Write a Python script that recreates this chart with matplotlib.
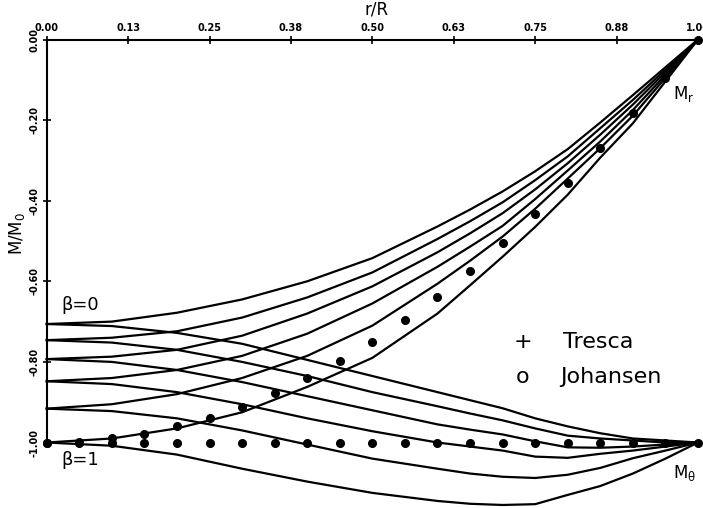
import matplotlib.pyplot as plt

# radial positions where the curves were read
r = [0.0, 0.1, 0.2, 0.3, 0.4, 0.5, 0.6, 0.65, 0.7, 0.75, 0.8, 0.85, 0.9, 0.95, 1.0]

# M_r curves, beta = 0 ... 1
mr_b00 = [-0.706, -0.700, -0.678, -0.645, -0.600, -0.5425, -0.464, -0.422, -0.377, -0.327, -0.272, -0.206, -0.138, -0.069, 0.0]
mr_b02 = [-0.746, -0.740, -0.724, -0.690, -0.640, -0.578, -0.495, -0.451, -0.404, -0.349, -0.290, -0.220, -0.150, -0.075, 0.0]
mr_b04 = [-0.793, -0.787, -0.770, -0.735, -0.680, -0.6125, -0.528, -0.481, -0.431, -0.372, -0.307, -0.236, -0.1615, -0.081, 0.0]
mr_b06 = [-0.848, -0.840, -0.820, -0.785, -0.730, -0.655, -0.564, -0.514, -0.4625, -0.396, -0.325, -0.253, -0.175, -0.088, 0.0]
mr_b08 = [-0.916, -0.905, -0.880, -0.840, -0.785, -0.710, -0.606, -0.549, -0.489, -0.420, -0.345, -0.2695, -0.189, -0.095, 0.0]
mr_b10 = [-1.000, -0.990, -0.965, -0.925, -0.862, -0.790, -0.680, -0.610, -0.539, -0.465, -0.385, -0.293, -0.208, -0.104, 0.0]

# M_theta curves, beta = 0 ... 1
mt_b00 = [-0.706, -0.711, -0.728, -0.755, -0.795, -0.835, -0.875, -0.895, -0.915, -0.940, -0.960, -0.977, -0.990, -0.995, -1.0]
mt_b02 = [-0.746, -0.752, -0.770, -0.800, -0.835, -0.875, -0.910, -0.928, -0.945, -0.965, -0.983, -0.990, -0.995, -1.000, -1.0]
mt_b04 = [-0.793, -0.800, -0.820, -0.850, -0.885, -0.920, -0.955, -0.968, -0.980, -0.997, -1.012, -1.013, -1.010, -1.005, -1.0]
mt_b06 = [-0.848, -0.855, -0.875, -0.905, -0.940, -0.972, -1.000, -1.010, -1.020, -1.035, -1.038, -1.028, -1.020, -1.010, -1.0]
mt_b08 = [-0.916, -0.922, -0.940, -0.970, -1.005, -1.040, -1.065, -1.077, -1.085, -1.088, -1.080, -1.063, -1.039, -1.020, -1.0]
mt_b10 = [-1.000, -1.008, -1.030, -1.065, -1.097, -1.125, -1.145, -1.152, -1.155, -1.153, -1.130, -1.108, -1.077, -1.040, -1.0]

# Johansen solution (dots)
r_joh = [0.0, 0.05, 0.1, 0.15, 0.2, 0.25, 0.3, 0.35, 0.4, 0.45, 0.5,
         0.55, 0.6, 0.65, 0.7, 0.75, 0.8, 0.85, 0.9, 0.95, 1.0]
mr_joh = [-1.0, -0.998, -0.99, -0.978, -0.96, -0.938, -0.912, -0.878, -0.84, -0.798, -0.75,
          -0.695, -0.64, -0.575, -0.505, -0.433, -0.355, -0.27, -0.183, -0.095, 0.0]
mt_joh = [-1.0] * len(r_joh)

xticks = [0.0, 0.125, 0.25, 0.375, 0.5, 0.625, 0.75, 0.875, 1.0]
xtick_labels = ["0.00", "0.13", "0.25", "0.38", "0.50", "0.63", "0.75", "0.88", "1.00"]
yticks = [0.0, -0.2, -0.4, -0.6, -0.8, -1.0]
ytick_labels = ["0.00", "-0.20", "-0.40", "-0.60", "-0.80", "-1.00"]

fig = plt.figure(figsize=(7.03, 5.08), dpi=100)
ax = fig.add_axes([46.7 / 703, 0, 651.3 / 703, (508 - 39.5) / 508])
ax.set_xlim(0, 1)
ax.set_ylim(-1.1625, 0)

for mr in [mr_b00, mr_b02, mr_b04, mr_b06, mr_b08, mr_b10]:
    ax.plot(r, mr, color="black", lw=1.6, clip_on=False)
for mt in [mt_b00, mt_b02, mt_b04, mt_b06, mt_b08, mt_b10]:
    ax.plot(r, mt, color="black", lw=1.6, clip_on=False)

ax.plot(r_joh, mr_joh, "o", color="black", ms=5.5, clip_on=False)
ax.plot(r_joh, mt_joh, "o", color="black", ms=5.5, clip_on=False)

# axes: only top and left lines
ax.spines["right"].set_visible(False)
ax.spines["bottom"].set_visible(False)
ax.spines["left"].set_bounds(-1.0, 0.0)
ax.spines["left"].set_linewidth(1.5)
ax.spines["top"].set_linewidth(1.5)

ax.xaxis.tick_top()
ax.set_xticks(xticks)
ax.set_xticklabels(xtick_labels, fontsize=7, fontweight="bold")
ax.set_yticks(yticks)
ax.set_yticklabels(ytick_labels, fontsize=7, fontweight="bold", rotation=90, va="center")
ax.tick_params(axis="both", direction="inout", length=6, width=1.2, pad=2)

ax.set_xlabel("r/R", fontsize=12)
ax.xaxis.set_label_position("top")
ax.xaxis.set_label_coords(0.507, 1.054)
ax.set_ylabel("M/M$_0$", fontsize=12)
ax.yaxis.set_label_coords(-0.030, 0.587)

ax.text(0.051, -0.659, "β=0", fontsize=13, ha="center", va="center")
ax.text(0.051, -1.043, "β=1", fontsize=13, ha="center", va="center")
ax.text(0.962, -0.135, r"$\mathrm{M_r}$", fontsize=12, ha="left", va="center")
ax.text(0.962, -1.075, r"$\mathrm{M_\theta}$", fontsize=12, ha="left", va="center")

ax.text(0.731, -0.75, "+", fontsize=16, ha="center", va="center")
ax.text(0.793, -0.75, "Tresca", fontsize=16, ha="left", va="center")
ax.text(0.731, -0.8375, "o", fontsize=16, ha="center", va="center")
ax.text(0.788, -0.8375, "Johansen", fontsize=16, ha="left", va="center")

fig.savefig("out.png", dpi=100)
